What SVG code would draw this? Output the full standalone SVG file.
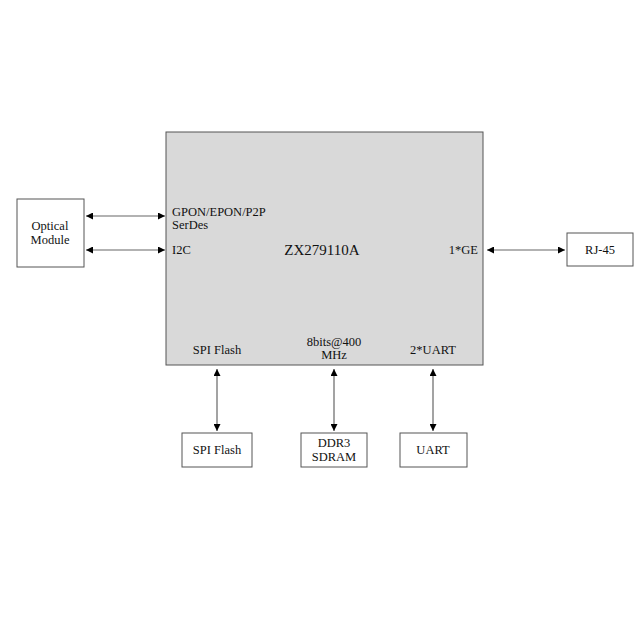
<svg xmlns="http://www.w3.org/2000/svg" width="640" height="640" viewBox="0 0 640 640">
<defs>
<marker id="ah" viewBox="0 0 10 10" refX="10" refY="5" markerWidth="7" markerHeight="7" orient="auto-start-reverse" markerUnits="userSpaceOnUse">
<path d="M0,0 L10,5 L0,10 z" fill="#000"/>
</marker>
</defs>
<style>
text{font-family:"Liberation Serif","Times New Roman",serif;font-size:12.5px;fill:#111}
.box{fill:#fff;stroke:#555;stroke-width:1}
.chip{fill:#d9d9d9;stroke:#555;stroke-width:1}
.c{text-anchor:middle}
.ln{stroke:#666;stroke-width:1.2;fill:none;marker-start:url(#ah);marker-end:url(#ah)}
</style>
<rect width="640" height="640" fill="#fff"/>
<g id="chip">
<rect class="chip" x="166" y="132" width="317" height="233"/>
<text x="172" y="216">GPON/EPON/P2P</text>
<text x="172" y="229">SerDes</text>
<text x="172" y="254">I2C</text>
<text class="c" x="322" y="255" style="font-size:15px">ZX279110A</text>
<text x="478" y="254" text-anchor="end">1*GE</text>
<text class="c" x="217" y="354">SPI Flash</text>
<text class="c" x="334" y="346">8bits@400</text>
<text class="c" x="334" y="359">MHz</text>
<text class="c" x="433" y="354">2*UART</text>
</g>
<g id="optical">
<rect class="box" x="17" y="199" width="67" height="68"/>
<text class="c" x="50" y="230">Optical</text>
<text class="c" x="50" y="244">Module</text>
</g>
<g id="rj45">
<rect class="box" x="567" y="233" width="66" height="33"/>
<text class="c" x="600" y="254">RJ-45</text>
</g>
<g id="spiflash">
<rect class="box" x="182" y="433" width="70" height="34"/>
<text class="c" x="217" y="454">SPI Flash</text>
</g>
<g id="ddr3">
<rect class="box" x="301" y="433" width="66" height="34"/>
<text class="c" x="334" y="447">DDR3</text>
<text class="c" x="334" y="461">SDRAM</text>
</g>
<g id="uart">
<rect class="box" x="400" y="433" width="67" height="34"/>
<text class="c" x="433" y="454">UART</text>
</g>
<g id="connectors">
<line class="ln" x1="86" y1="216" x2="165" y2="216"/>
<line class="ln" x1="86" y1="250" x2="165" y2="250"/>
<line class="ln" x1="487" y1="250" x2="565" y2="250"/>
<line class="ln" x1="217" y1="369" x2="217" y2="431"/>
<line class="ln" x1="334" y1="369" x2="334" y2="431"/>
<line class="ln" x1="433" y1="369" x2="433" y2="431"/>
</g>
</svg>
